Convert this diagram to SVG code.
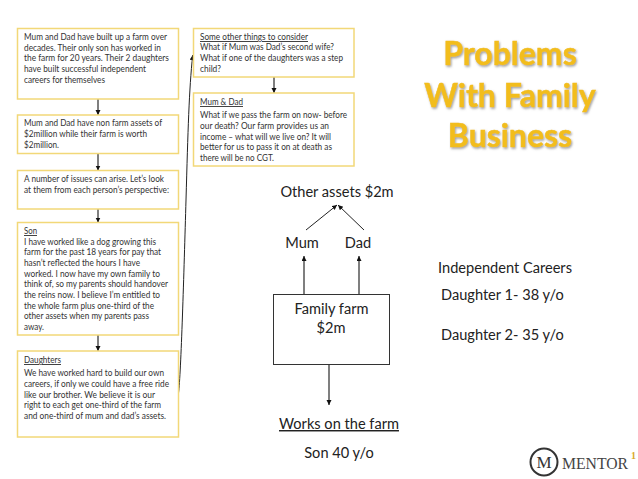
<svg xmlns="http://www.w3.org/2000/svg" width="638" height="479" viewBox="0 0 638 479">
<style>
text{font-family:Lato,"Open Sans","Liberation Sans",sans-serif;fill:#222}
.b rect{fill:#fff;stroke:#f2d878;stroke-width:1.5}
.b text{font-size:9.2px;fill:#333}
.u{text-decoration:underline}
.l{font-size:14.6px}
.c{text-anchor:middle}
.t{font-size:32px;font-weight:700;fill:#f2bd1d;stroke:#f2bd1d;stroke-width:.5;text-anchor:middle;filter:url(#s)}
.k{stroke:#222;stroke-width:1;fill:none;marker-end:url(#a)}
.g{stroke:#555;stroke-width:1.5;fill:none;marker-end:url(#a)}
.m{font-family:"Liberation Serif",serif;fill:#444}
</style>
<defs>
<marker id="a" markerUnits="userSpaceOnUse" markerWidth="6" markerHeight="6" refX="5" refY="2.5" orient="auto"><path d="M0 0L5 2.500L0 5z" fill="#111"/></marker>
<filter id="s" x="-5%" y="-10%" width="110%" height="125%"><feDropShadow dx="1" dy="1.5" stdDeviation="0.8" flood-color="#777" flood-opacity=".7"/></filter>
</defs>
<rect width="638" height="479" fill="#fff"/>
<g id="connectors">
<path class="g" d="M98 99V115"/>
<path class="g" d="M98 153.500V170.500"/>
<path class="g" d="M98 209V222.500"/>
<path class="g" d="M98 335V351"/>
<path class="g" d="M274 77V93"/>
<path class="k" d="M178.500 393C181 375 184 270 186 200S189 90 192.700 55"/>
<path class="k" d="M306 230L337 205"/>
<path class="k" d="M364 230L338 205"/>
<path class="g" d="M304 294V256"/>
<path class="g" d="M359 294V256"/>
<path class="g" d="M329 365V405"/>
</g>
<g id="box1" class="b"><rect x="17.500" y="28.500" width="161" height="70.500"/>
<text x="24" y="40" textLength="143" lengthAdjust="spacingAndGlyphs">Mum and Dad have built up a farm over</text><text x="24" y="50.500" textLength="137" lengthAdjust="spacingAndGlyphs">decades.  Their only son has worked in</text><text x="24" y="61" textLength="145" lengthAdjust="spacingAndGlyphs">the farm for 20 years.  Their 2 daughters</text><text x="24" y="72" textLength="122" lengthAdjust="spacingAndGlyphs">have built successful independent</text><text x="24" y="82.500" textLength="81" lengthAdjust="spacingAndGlyphs">careers for themselves</text></g>
<g id="box2" class="b"><rect x="17.500" y="115" width="161" height="38.500"/>
<text x="24" y="126" textLength="138" lengthAdjust="spacingAndGlyphs">Mum and Dad have non farm assets of</text><text x="24" y="137" textLength="123" lengthAdjust="spacingAndGlyphs">$2million while their farm is worth</text><text x="24" y="148" textLength="35" lengthAdjust="spacingAndGlyphs">$2million.</text></g>
<g id="box3" class="b"><rect x="17.500" y="170.500" width="161" height="38.500"/>
<text x="24" y="182" textLength="140" lengthAdjust="spacingAndGlyphs">A number of issues can arise. Let’s look</text><text x="24" y="192.500" textLength="145" lengthAdjust="spacingAndGlyphs">at them from each person’s perspective:</text></g>
<g id="box4" class="b"><rect x="17.500" y="222.500" width="161" height="112.500"/>
<text x="24" y="234" class="u" textLength="13" lengthAdjust="spacingAndGlyphs">Son</text><text x="24" y="244.500" textLength="132" lengthAdjust="spacingAndGlyphs">I have worked like a dog growing this</text><text x="24" y="255" textLength="137" lengthAdjust="spacingAndGlyphs">farm for the past 18 years for pay that</text><text x="24" y="266" textLength="116" lengthAdjust="spacingAndGlyphs">hasn’t reflected the hours I have</text><text x="24" y="276.500" textLength="136" lengthAdjust="spacingAndGlyphs">worked.  I now have my own family to</text><text x="24" y="287" textLength="144" lengthAdjust="spacingAndGlyphs">think of, so my parents should handover</text><text x="24" y="298" textLength="136" lengthAdjust="spacingAndGlyphs">the reins now. I believe I’m entitled to</text><text x="24" y="308.500" textLength="130" lengthAdjust="spacingAndGlyphs">the whole farm plus one-third of the</text><text x="24" y="319" textLength="125" lengthAdjust="spacingAndGlyphs">other assets when my parents pass</text><text x="24" y="330" textLength="20" lengthAdjust="spacingAndGlyphs">away.</text></g>
<g id="box5" class="b"><rect x="17.500" y="351" width="161" height="86"/>
<text x="24" y="363" class="u" textLength="37" lengthAdjust="spacingAndGlyphs">Daughters</text><text x="24" y="376" textLength="140" lengthAdjust="spacingAndGlyphs">We have worked hard to build our own</text><text x="24" y="387" textLength="145" lengthAdjust="spacingAndGlyphs">careers, if only we could have a free ride</text><text x="24" y="397.500" textLength="131" lengthAdjust="spacingAndGlyphs">like our brother.  We believe it is our</text><text x="24" y="408" textLength="137" lengthAdjust="spacingAndGlyphs">right to each get one-third of the farm</text><text x="24" y="418.500" textLength="142" lengthAdjust="spacingAndGlyphs">and one-third of mum and dad’s assets.</text></g>
<g id="box6" class="b"><rect x="193.500" y="28.500" width="160.500" height="48.500"/>
<text x="200" y="40" class="u" textLength="108" lengthAdjust="spacingAndGlyphs">Some other things to consider</text><text x="200" y="50" textLength="134" lengthAdjust="spacingAndGlyphs">What if Mum was Dad’s second wife?</text><text x="200" y="61" textLength="143" lengthAdjust="spacingAndGlyphs">What if one of the daughters was a step</text><text x="200" y="72" textLength="21" lengthAdjust="spacingAndGlyphs">child?</text></g>
<g id="box7" class="b"><rect x="193.500" y="93" width="160.500" height="73"/>
<text x="200" y="105" class="u" textLength="43" lengthAdjust="spacingAndGlyphs">Mum &amp; Dad</text><text x="200" y="118" textLength="147" lengthAdjust="spacingAndGlyphs">What if we pass the farm on now- before</text><text x="200" y="128.500" textLength="129" lengthAdjust="spacingAndGlyphs">our death?  Our farm provides us an</text><text x="200" y="139.500" textLength="131" lengthAdjust="spacingAndGlyphs">income – what will we live on? It will</text><text x="200" y="150" textLength="132" lengthAdjust="spacingAndGlyphs">better for us to pass it on at death as</text><text x="200" y="161" textLength="74" lengthAdjust="spacingAndGlyphs">there will be no CGT.</text></g>
<g id="title"><text class="t" x="510" y="65">Problems</text><text class="t" x="510" y="107">With Family</text><text class="t" x="510" y="147">Business</text></g>
<g id="other-assets"><text class="l c" x="337" y="197">Other assets $2m</text></g>
<g id="mum"><text class="l c" x="302" y="248">Mum</text></g>
<g id="dad"><text class="l c" x="358" y="248">Dad</text></g>
<g id="family-farm"><rect x="273.500" y="294.500" width="116" height="70" fill="#fff" stroke="#333" stroke-width="1"/><text class="l c" x="331.500" y="313.500">Family farm</text><text class="l c" x="331" y="333">$2m</text></g>
<g id="works"><text class="l c u" x="339" y="429">Works on the farm</text></g>
<g id="son"><text class="l c" x="339" y="458">Son 40 y/o</text></g>
<g id="careers"><text class="l c" x="505" y="273">Independent Careers</text><text class="l" x="441" y="300">Daughter 1- 38 y/o</text><text class="l" x="441" y="340">Daughter 2- 35 y/o</text></g>
<g id="logo"><circle cx="544" cy="462" r="13.500" fill="#fff" stroke="#333" stroke-width="2"/><text class="m" x="544" y="468" text-anchor="middle" style="font-size:17px;fill:#333">M</text><text class="m" x="562" y="469" textLength="66" lengthAdjust="spacingAndGlyphs" style="font-size:16px">MENTOR</text><text class="m" x="631" y="459" style="font-size:10px;font-weight:700;fill:#d9a92a">1</text></g>
</svg>
